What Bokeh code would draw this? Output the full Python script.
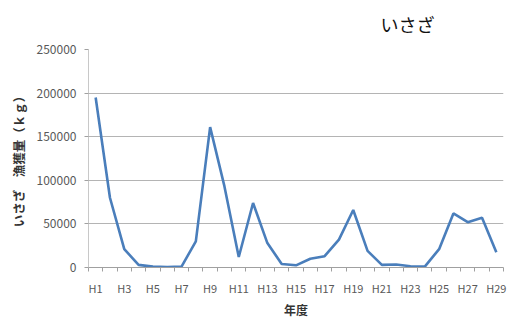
from bokeh.plotting import figure
from bokeh.models import FixedTicker, Title, Range1d
from bokeh.embed import file_html
from bokeh.resources import INLINE

years = ["H%d" % i for i in range(1, 30)]
catch_kg = [195000, 80000, 21000, 3000, 1000, 500, 1000, 30000, 161000, 93000,
            12000, 74000, 28000, 4000, 2500, 10000, 13000, 32000, 66000, 19000,
            3000, 3500, 1500, 1000, 21000, 62000, 52000, 57000, 17500]
y_ticks = [0, 50000, 100000, 150000, 200000, 250000]
chart_title = "いさざ"

x = list(range(1, len(years) + 1))

p = figure(width=510, height=320, output_backend="svg", toolbar_location=None,
           x_range=Range1d(0.5, len(years) + 0.5), y_range=Range1d(0, 250000),
           min_border_left=88, min_border_right=7, min_border_top=49, min_border_bottom=52)
p.outline_line_color = None

p.line(x, catch_kg, line_color="#4A7EBB", line_width=2.6)

font = "Noto Sans CJK JP"

# x axis
p.xaxis.ticker = FixedTicker(ticks=[i for i in x if i % 2 == 1],
                             minor_ticks=[i + 0.5 for i in range(0, len(years) + 1)])
p.xaxis.major_label_overrides = {i: years[i - 1] for i in x}
p.xaxis.major_tick_out = 0
p.xaxis.major_tick_in = 0
p.xaxis.minor_tick_out = 4
p.xaxis.minor_tick_in = 0
p.xaxis.minor_tick_line_color = "#A0A0A0"
p.xaxis.axis_line_color = "#A0A0A0"
p.xaxis.major_label_text_font = font
p.xaxis.major_label_text_font_size = "11px"
p.xaxis.major_label_text_color = "#595959"
p.xaxis.major_label_standoff = 8
p.xaxis.axis_label = "年度"
p.xaxis.axis_label_text_font = font
p.xaxis.axis_label_text_font_size = "12px"
p.xaxis.axis_label_text_font_style = "bold"
p.xaxis.axis_label_text_color = "#333333"
p.xaxis.axis_label_standoff = 2

# y axis
p.yaxis.ticker = FixedTicker(ticks=y_ticks)
p.yaxis.formatter.use_scientific = False
p.yaxis.major_tick_out = 4
p.yaxis.major_tick_in = 0
p.yaxis.minor_tick_line_color = None
p.yaxis.major_tick_line_color = "#A0A0A0"
p.yaxis.axis_line_color = "#C8C8C8"
p.yaxis.major_label_text_font = font
p.yaxis.major_label_text_font_size = "12px"
p.yaxis.major_label_text_color = "#595959"
p.yaxis.major_label_standoff = 8
p.yaxis.axis_label = "いさざ　漁獲量（ｋｇ）"
p.yaxis.axis_label_text_font = font
p.yaxis.axis_label_text_font_size = "12.5px"
p.yaxis.axis_label_text_font_style = "bold"
p.yaxis.axis_label_text_color = "#333333"
p.yaxis.axis_label_standoff = 6

p.xgrid.grid_line_color = None
p.ygrid.ticker = FixedTicker(ticks=y_ticks)
p.ygrid.grid_line_color = "#B4B4B4"
p.ygrid.grid_line_width = 1

t = Title(text=chart_title, text_font=font, text_font_size="18px",
          text_font_style="normal", text_color="#111111", align="left",
          vertical_align="top", offset=292, standoff=21)
p.add_layout(t, "above")

open("out.html", "w").write(file_html(p, INLINE))
